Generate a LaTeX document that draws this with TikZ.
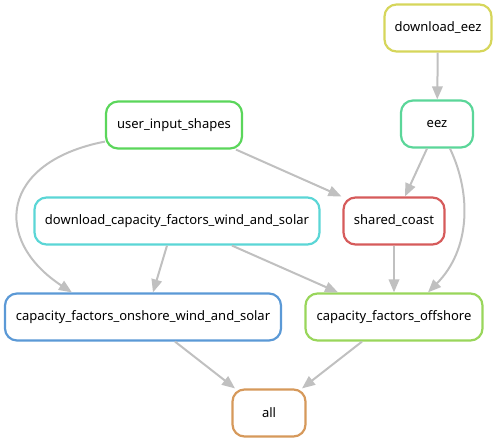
\documentclass[tikz,border=0pt]{standalone}
\usepackage{fontspec}
\setmainfont{Noto Sans}
\usetikzlibrary{arrows.meta}
\definecolor{cyel}{HTML}{D6D65B}
\definecolor{cteal}{HTML}{5BD699}
\definecolor{cgreen}{HTML}{5BD65B}
\definecolor{ccyan}{HTML}{5BD6D6}
\definecolor{cred}{HTML}{D65B5B}
\definecolor{cblue}{HTML}{5B99D6}
\definecolor{clime}{HTML}{99D65B}
\definecolor{corange}{HTML}{D6995B}
\definecolor{cedge}{HTML}{C0C0C0}
\tikzset{
  rule/.style={draw=#1, line width=2.2pt, rounded corners=12pt, fill=white,
    minimum height=47pt, inner sep=0pt, font=\fontsize{13pt}{15pt}\selectfont},
  edge/.style={draw=cedge, line width=2pt, -{Triangle[length=13pt,width=10.5pt]}}
}
\begin{document}
\begin{tikzpicture}[x=1pt,y=-1pt]
\useasboundingbox (0,0) rectangle (498,443);
\node[rule=cyel, minimum width=107pt] (deez) at (438,28) {download\_eez};
\node[rule=cteal, minimum width=72pt] (eez) at (437,124) {eez};
\node[rule=cgreen, minimum width=136pt] (uis) at (174,125) {user\_input\_shapes};
\node[rule=ccyan, minimum width=285pt] (dcf) at (177,221) {download\_capacity\_factors\_wind\_and\_solar};
\node[rule=cred, minimum width=101pt] (coast) at (394,221) {shared\_coast};
\node[rule=cblue, minimum width=276pt] (onshore) at (143,317) {capacity\_factors\_onshore\_wind\_and\_solar};
\node[rule=clime, minimum width=177pt] (offshore) at (394,317) {capacity\_factors\_offshore};
\node[rule=corange, minimum width=73pt] (all) at (269,413) {all};

\draw[edge] (deez) -- (eez);
\draw[edge] ([xshift=-10pt]eez.south) -- ([xshift=11pt]coast.north);
\draw[edge] ([xshift=13pt]eez.south) .. controls (472,195) and (470,250) .. ([xshift=34pt]offshore.north);
\draw[edge] ([xshift=62pt]uis.south) -- ([xshift=-1pt]coast.north west);
\draw[edge] ([yshift=8pt]uis.south west) .. controls (0,162) and (-8,240) .. ([xshift=68pt]onshore.north west);
\draw[edge] ([xshift=-10pt]dcf.south) -- ([xshift=10pt]onshore.north);
\draw[edge] ([xshift=55pt]dcf.south) -- ([xshift=-56pt]offshore.north);
\draw[edge] (coast) -- (offshore);
\draw[edge] ([xshift=32pt]onshore.south) -- ([xshift=-34pt]all.north);
\draw[edge] ([xshift=-32pt]offshore.south) -- ([xshift=33pt]all.north);
\end{tikzpicture}
\end{document}
